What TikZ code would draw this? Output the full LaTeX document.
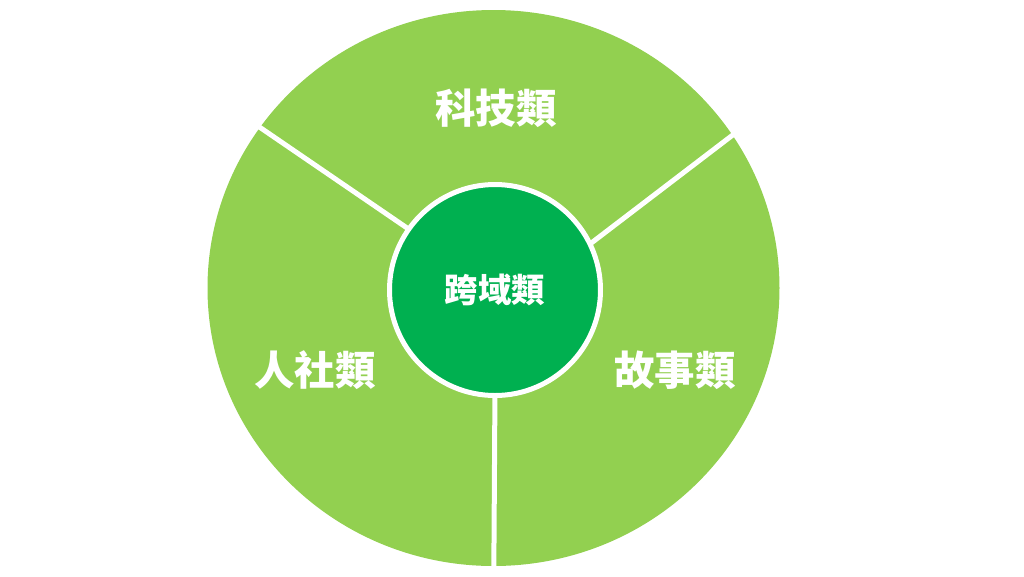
\documentclass[tikz,border=0pt]{standalone}
\usepackage{fontspec}
\setmainfont{Noto Sans CJK TC}
\usepackage{tikz}
\usetikzlibrary{shapes, positioning}
\definecolor{lightgreen}{HTML}{92D050}
\definecolor{darkgreen}{HTML}{00B050}

\begin{document}
\begin{tikzpicture} [sector/.style={color=white, font=\fontsize{11.5}{13}\selectfont\bfseries},
  divider/.style={draw=white, line width=0.05cm},
  hubstyle/.style={circle, fill=darkgreen, draw=white, line width=0.05cm, minimum size=2.11cm, inner sep=0pt, text=white, font=\fontsize{9.5}{11}\selectfont\bfseries}]
\useasboundingbox (0,0) rectangle (10.24,5.76);
\fill[color=lightgreen] (4.935,2.88) circle [x radius = 2.86cm, y radius = 2.78cm];
\coordinate (ulOut) at (2.55,4.52); \coordinate (ulIn) at (4.10,3.46);
\coordinate (urOut) at (7.38,4.45); \coordinate (urIn) at (5.90,3.32);
\coordinate (bOut) at (4.938,0.02); \coordinate (bIn) at (4.95,1.90);
\draw[divider] (ulOut) -- (ulIn); \draw[divider] (urOut) -- (urIn);
\draw[divider] (bOut) -- (bIn);
\node[hubstyle] (hub) at (4.95,2.86) {跨域類};
\node[sector] (tech) at (4.96,4.68) {科技類};
\node[sector] (human) at (3.15,2.06) {人社類};
\node[sector] (story) at (6.75,2.06) {故事類};
\end{tikzpicture}
\end{document}
